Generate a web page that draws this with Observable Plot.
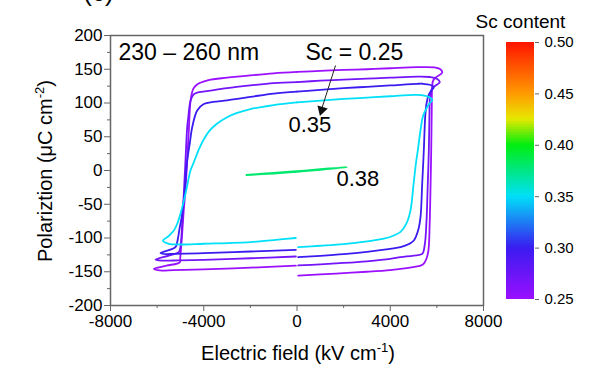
<!DOCTYPE html>
<html><head><meta charset="utf-8">
<script src="https://cdn.jsdelivr.net/npm/d3@7"></script>
<script src="https://cdn.jsdelivr.net/npm/@observablehq/plot@0.6"></script>
<style>
body{margin:0;background:#fff;}
#wrap{position:relative;width:600px;height:382px;overflow:hidden;font-family:"Liberation Sans",Arial,sans-serif;}
#wrap svg{position:absolute;top:0;}
</style></head><body><div id="wrap"></div>
<script>
// ---- data ----
const scContent = [0.25, 0.27, 0.30, 0.35, 0.38];
// each branch: [E (kV/cm), P (uC/cm2)]
const sc25Neg = [[0,146],[-1000,144],[-2000,141],[-3000,137.5],[-3800,134],[-4150,130],[-4300,127],[-4450,121],[-4560,105],[-4640,60],[-4710,15],[-4790,-30],[-4860,-60],[-4930,-95],[-4970,-114],[-5010,-130],[-5030,-136],[-5600,-141],[-6140,-145.7],[-5900,-148],[-5285,-147.5],[-4000,-146.5],[-2000,-144],[-50,-141]];
const sc25Pos = [[50,-155.6],[1000,-154],[2000,-152],[3000,-150],[4000,-147.5],[4440,-145.7],[5000,-143],[5300,-141],[5440,-138],[5560,-130],[5640,-118],[5690,-80],[5730,-20],[5757,30],[5780,90],[5800,125],[5850,134],[6000,139],[6229,145],[6150,150],[5950,152.5],[5157,153],[4000,151.5],[3000,150],[2000,149],[1000,147.5],[0,146]];
const sc27Neg = [[0,131],[-1000,129.5],[-2000,126],[-3000,122],[-3800,118],[-4200,116],[-4427,113],[-4550,105],[-4600,98],[-4660,80],[-4710,64],[-4790,10],[-4856,-35],[-4920,-75],[-4970,-104],[-5010,-115],[-5070,-121],[-5500,-126],[-6070,-132],[-5800,-133.5],[-5285,-133.3],[-4000,-132.5],[-2000,-130],[-50,-127.4]];
const sc27Pos = [[50,-140.7],[1000,-139],[2000,-137],[3000,-134.5],[4000,-131],[4440,-128.4],[5000,-126],[5371,-123.5],[5480,-110],[5556,-74],[5600,-30],[5655,30],[5680,80],[5710,110],[5800,122],[5950,126],[6126,130.8],[6000,136],[5700,138.5],[5157,139],[4000,137.5],[3000,136],[2000,134.5],[1000,133],[0,131]];
const sc30Neg = [[0,117],[-1000,114],[-2000,109],[-3000,104],[-3600,101.5],[-3998,98.5],[-4281,89],[-4496,64],[-4600,40],[-4710,15],[-4830,-34.5],[-4950,-70],[-5028,-84],[-5120,-103],[-5212,-113.6],[-5500,-118],[-5856,-122.5],[-5600,-123.8],[-5285,-123.5],[-4000,-122.5],[-2000,-120],[-50,-117.5]];
const sc30Pos = [[50,-128.4],[1000,-126.5],[2000,-124],[3000,-120.5],[4000,-116],[4440,-113.6],[4800,-109],[5011,-103.7],[5200,-88],[5298,-69],[5370,-20],[5440,30],[5500,80],[5560,100],[5650,112],[5750,118],[5869,123.4],[5700,127],[5400,128.5],[5157,128.4],[4000,126],[3000,124],[2000,122],[1000,119.5],[0,117]];
const sc35Neg = [[0,101],[-1000,97],[-2000,91],[-2600,85],[-3000,79],[-3450,69],[-3750,59],[-4000,46],[-4200,32],[-4427,12],[-4569,0],[-4783,-34.6],[-4998,-64],[-5150,-80],[-5285,-89],[-5500,-97],[-5750,-104],[-5500,-108.6],[-5000,-109.6],[-4000,-108.5],[-2000,-106],[-1000,-103],[-50,-100]];
const sc35Pos = [[50,-113.6],[1000,-111.5],[2000,-109],[3000,-105],[3724,-101],[4100,-97],[4440,-91],[4700,-78],[4869,-59],[5000,-20],[5100,10],[5183,30],[5300,60],[5400,80],[5585,94],[5700,100],[5800,104],[5650,109],[5157,112],[4000,110],[3000,108],[2000,106],[1000,103.5],[0,101]];
const sc38Loop = [[-2166,-6.4],[-1000,-3.5],[0,-1],[1000,2],[2154,5],[1000,1],[0,-2],[-1000,-4.5],[-2166,-6.8]];

const xTicks = [-8000, -4000, 0, 4000, 8000];
const xMinor = [-6000, -2000, 2000, 6000];
const yTicks = [-200, -150, -100, -50, 0, 50, 100, 150, 200];
const yMinor = [-175, -125, -75, -25, 25, 75, 125, 175];
const cbTicks = [0.25, 0.30, 0.35, 0.40, 0.45, 0.50];
const colorStops = [0.25, 0.30, 0.35, 0.40, 0.425, 0.45, 0.50];
const colorRange = ["#9a10ff", "#3a1cf0", "#00e0f8", "#00ee10", "#e6e800", "#ff9a00", "#ff1400"];

const labels = [
  {text: "230 – 260 nm", E: -7658, P: 174, size: 23},
  {text: "Sc = 0.25", E: 365, P: 174, size: 23},
  {text: "0.35", E: -365, P: 67, size: 22},
  {text: "0.38", E: 1695, P: -12, size: 22}
];
const arrowLine = [{E1: 1652, P1: 155.6, E2: 1030, P2: 88}];
const arrowHead = [{E: 1060, P: 89.6}];

// ---- build table ----
const branches = [
  [sc25Neg, 0], [sc25Pos, 0], [sc27Neg, 1], [sc27Pos, 1],
  [sc30Neg, 2], [sc30Pos, 2], [sc35Neg, 3], [sc35Pos, 3], [sc38Loop, 4]
];
const rows = [];
branches.forEach(([pts, k], i) => pts.forEach(([E, P]) => rows.push({id: i, E, P, sc: scContent[k]})));

const colorOpts = {type: "linear", domain: colorStops, range: colorRange, interpolate: "rgb"};
const font = "'Liberation Sans', Arial, sans-serif";
const plain = d => String(d);

const main = Plot.plot({
  width: 600, height: 382,
  marginLeft: 110, marginRight: 117, marginTop: 35, marginBottom: 77,
  style: {fontFamily: font, fontSize: "17px", background: "transparent", color: "black"},
  x: {domain: [-8000, 8000]},
  y: {domain: [-200, 200]},
  color: colorOpts,
  marks: [
    Plot.line(rows, {x: "E", y: "P", z: "id", stroke: "sc", strokeWidth: 1.8, curve: "catmull-rom"}),
    Plot.frame({stroke: "#666", strokeWidth: 1.5}),
    Plot.axisX({ticks: xTicks, tickSize: 6, tickPadding: 3, tickFormat: plain, fontSize: 17, label: null, stroke: "#666", fill: "black"}),
    Plot.axisX({ticks: xMinor, tickSize: 3, tickFormat: () => "", label: null, stroke: "#666"}),
    Plot.axisY({ticks: yTicks, tickSize: 6, tickPadding: 2, tickFormat: plain, fontSize: 17, label: null, stroke: "#666", fill: "black"}),
    Plot.axisY({ticks: yMinor, tickSize: 3, tickFormat: () => "", label: null, stroke: "#666"}),
    Plot.text(labels, {x: "E", y: "P", text: "text", fontSize: d => d.size, textAnchor: "start", fill: "black"}),
    Plot.link(arrowLine, {x1: "E1", y1: "P1", x2: "E2", y2: "P2", stroke: "#222", strokeWidth: 1}),
    Plot.dot(arrowHead, {x: "E", y: "P", symbol: "triangle", r: 4, fill: "#111", stroke: null, rotate: 197}),
    Plot.text(["(c)"], {x: -8516, y: 264, fontSize: 26, fill: "black"})
  ]
});
document.getElementById("wrap").appendChild(main);

// axis titles with superscripts
const svg = d3.select(main);
const yl = svg.append("text").attr("transform", "translate(52,171) rotate(-90)")
  .attr("text-anchor", "middle").attr("font-size", 20).attr("fill", "black").attr("font-family", font);
yl.append("tspan").text("Polariztion (μC cm");
yl.append("tspan").attr("dy", -8).attr("font-size", 13).text("-2");
yl.append("tspan").attr("dy", 8).text(")");
const xl = svg.append("text").attr("transform", "translate(298,360)")
  .attr("text-anchor", "middle").attr("font-size", 20).attr("fill", "black").attr("font-family", font);
xl.append("tspan").text("Electric field (kV cm");
xl.append("tspan").attr("dy", -8).attr("font-size", 13).text("-1");
xl.append("tspan").attr("dy", 8).text(")");

// ---- colour bar ----
const step = 0.0025;
const bands = d3.range(0.25, 0.5 - 1e-9, step).map(v => ({y1: v, y2: Math.min(0.5, v + step * 1.6), v: v + step / 2}));
const bar = Plot.plot({
  width: 140, height: 382,
  marginLeft: 46, marginRight: 66, marginTop: 42, marginBottom: 83,
  style: {fontFamily: font, fontSize: "15px", background: "transparent", color: "black"},
  x: {domain: [0, 1], axis: null},
  y: {domain: [0.25, 0.5]},
  color: colorOpts,
  marks: [
    Plot.rect(bands, {x1: 0, x2: 1, y1: "y1", y2: "y2", fill: "v"}),
    Plot.axisY({anchor: "right", ticks: cbTicks, tickFormat: d3.format(".2f"), tickSize: 4, tickPadding: 6, fontSize: 15, label: null, stroke: "#666", fill: "black"}),
    Plot.text(["Sc content"], {frameAnchor: "top", lineAnchor: "middle", dy: -21, fontSize: 19, fill: "black"})
  ]
});
bar.style.left = "460px";
document.getElementById("wrap").appendChild(bar);
</script>
</body></html>
